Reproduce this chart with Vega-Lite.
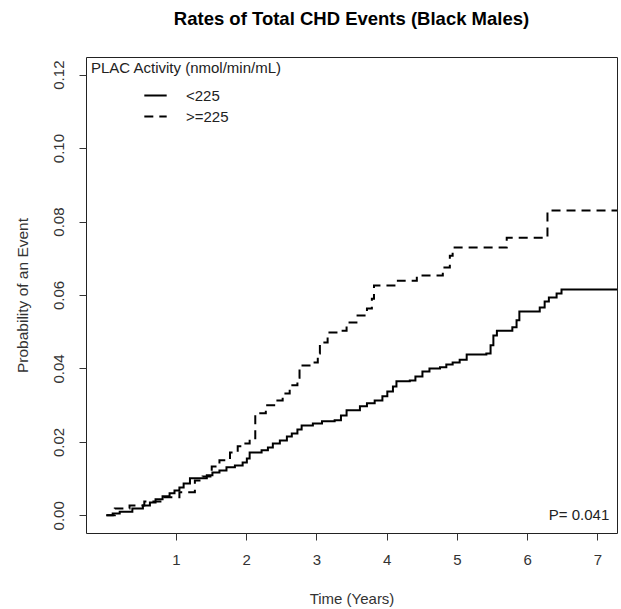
{
  "$schema": "https://vega.github.io/schema/vega-lite/v6.json",
  "width": 531,
  "height": 476,
  "autosize": {"type": "none"},
  "padding": {"left": 86, "top": 57, "right": 4, "bottom": 76},
  "background": "white",
  "title": {"text": "Rates of Total CHD Events (Black Males)", "font": "Liberation Sans", "fontSize": 18.5, "fontWeight": "bold", "color": "black", "anchor": "middle", "offset": 29},
  "config": {
    "view": {"stroke": "#222", "strokeWidth": 1},
    "font": "Liberation Sans",
    "text": {"font": "Liberation Sans"}
  },
  "datasets": {
    "km": [
      {"t": 0.01, "p": 0, "group": "<225"},
      {"t": 0.10, "p": 0.0005, "group": "<225"},
      {"t": 0.20, "p": 0.001, "group": "<225"},
      {"t": 0.38, "p": 0.0019, "group": "<225"},
      {"t": 0.53, "p": 0.0027, "group": "<225"},
      {"t": 0.63, "p": 0.0035, "group": "<225"},
      {"t": 0.71, "p": 0.0044, "group": "<225"},
      {"t": 0.81, "p": 0.0052, "group": "<225"},
      {"t": 0.91, "p": 0.006, "group": "<225"},
      {"t": 0.98, "p": 0.0068, "group": "<225"},
      {"t": 1.05, "p": 0.0076, "group": "<225"},
      {"t": 1.11, "p": 0.0087, "group": "<225"},
      {"t": 1.20, "p": 0.0101, "group": "<225"},
      {"t": 1.44, "p": 0.0109, "group": "<225"},
      {"t": 1.52, "p": 0.0117, "group": "<225"},
      {"t": 1.62, "p": 0.0122, "group": "<225"},
      {"t": 1.72, "p": 0.0131, "group": "<225"},
      {"t": 1.84, "p": 0.0136, "group": "<225"},
      {"t": 1.95, "p": 0.0144, "group": "<225"},
      {"t": 2.01, "p": 0.0155, "group": "<225"},
      {"t": 2.05, "p": 0.0171, "group": "<225"},
      {"t": 2.22, "p": 0.0177, "group": "<225"},
      {"t": 2.31, "p": 0.0185, "group": "<225"},
      {"t": 2.38, "p": 0.0196, "group": "<225"},
      {"t": 2.48, "p": 0.0204, "group": "<225"},
      {"t": 2.58, "p": 0.0215, "group": "<225"},
      {"t": 2.65, "p": 0.0223, "group": "<225"},
      {"t": 2.73, "p": 0.0234, "group": "<225"},
      {"t": 2.79, "p": 0.0245, "group": "<225"},
      {"t": 2.95, "p": 0.025, "group": "<225"},
      {"t": 3.08, "p": 0.0256, "group": "<225"},
      {"t": 3.26, "p": 0.0259, "group": "<225"},
      {"t": 3.35, "p": 0.0272, "group": "<225"},
      {"t": 3.43, "p": 0.0286, "group": "<225"},
      {"t": 3.62, "p": 0.0297, "group": "<225"},
      {"t": 3.72, "p": 0.0305, "group": "<225"},
      {"t": 3.83, "p": 0.0313, "group": "<225"},
      {"t": 3.94, "p": 0.0324, "group": "<225"},
      {"t": 4.01, "p": 0.0337, "group": "<225"},
      {"t": 4.09, "p": 0.0351, "group": "<225"},
      {"t": 4.14, "p": 0.0365, "group": "<225"},
      {"t": 4.33, "p": 0.0367, "group": "<225"},
      {"t": 4.41, "p": 0.0378, "group": "<225"},
      {"t": 4.51, "p": 0.0392, "group": "<225"},
      {"t": 4.61, "p": 0.04, "group": "<225"},
      {"t": 4.76, "p": 0.0403, "group": "<225"},
      {"t": 4.85, "p": 0.0411, "group": "<225"},
      {"t": 4.94, "p": 0.0416, "group": "<225"},
      {"t": 5.04, "p": 0.0424, "group": "<225"},
      {"t": 5.14, "p": 0.0438, "group": "<225"},
      {"t": 5.42, "p": 0.0441, "group": "<225"},
      {"t": 5.48, "p": 0.0463, "group": "<225"},
      {"t": 5.52, "p": 0.049, "group": "<225"},
      {"t": 5.57, "p": 0.0503, "group": "<225"},
      {"t": 5.79, "p": 0.0512, "group": "<225"},
      {"t": 5.85, "p": 0.0531, "group": "<225"},
      {"t": 5.89, "p": 0.0555, "group": "<225"},
      {"t": 6.18, "p": 0.0566, "group": "<225"},
      {"t": 6.25, "p": 0.0582, "group": "<225"},
      {"t": 6.31, "p": 0.0593, "group": "<225"},
      {"t": 6.42, "p": 0.0604, "group": "<225"},
      {"t": 6.49, "p": 0.0615, "group": "<225"},
      {"t": 7.30, "p": 0.0615, "group": "<225"},
      {"t": 0.01, "p": 0, "group": ">=225"},
      {"t": 0.13, "p": 0.0019, "group": ">=225"},
      {"t": 0.34, "p": 0.0027, "group": ">=225"},
      {"t": 0.55, "p": 0.0038, "group": ">=225"},
      {"t": 0.80, "p": 0.0049, "group": ">=225"},
      {"t": 1.05, "p": 0.0063, "group": ">=225"},
      {"t": 1.27, "p": 0.0095, "group": ">=225"},
      {"t": 1.38, "p": 0.0106, "group": ">=225"},
      {"t": 1.51, "p": 0.0133, "group": ">=225"},
      {"t": 1.62, "p": 0.015, "group": ">=225"},
      {"t": 1.77, "p": 0.0171, "group": ">=225"},
      {"t": 1.88, "p": 0.0188, "group": ">=225"},
      {"t": 1.96, "p": 0.0196, "group": ">=225"},
      {"t": 2.05, "p": 0.021, "group": ">=225"},
      {"t": 2.13, "p": 0.0278, "group": ">=225"},
      {"t": 2.28, "p": 0.03, "group": ">=225"},
      {"t": 2.43, "p": 0.0313, "group": ">=225"},
      {"t": 2.52, "p": 0.0332, "group": ">=225"},
      {"t": 2.62, "p": 0.0354, "group": ">=225"},
      {"t": 2.73, "p": 0.0375, "group": ">=225"},
      {"t": 2.76, "p": 0.0408, "group": ">=225"},
      {"t": 2.93, "p": 0.0416, "group": ">=225"},
      {"t": 3.02, "p": 0.0441, "group": ">=225"},
      {"t": 3.05, "p": 0.0471, "group": ">=225"},
      {"t": 3.16, "p": 0.0498, "group": ">=225"},
      {"t": 3.33, "p": 0.0503, "group": ">=225"},
      {"t": 3.43, "p": 0.0525, "group": ">=225"},
      {"t": 3.57, "p": 0.0544, "group": ">=225"},
      {"t": 3.72, "p": 0.0563, "group": ">=225"},
      {"t": 3.79, "p": 0.059, "group": ">=225"},
      {"t": 3.82, "p": 0.0626, "group": ">=225"},
      {"t": 4.16, "p": 0.0639, "group": ">=225"},
      {"t": 4.43, "p": 0.0653, "group": ">=225"},
      {"t": 4.80, "p": 0.0675, "group": ">=225"},
      {"t": 4.90, "p": 0.0707, "group": ">=225"},
      {"t": 4.94, "p": 0.0729, "group": ">=225"},
      {"t": 5.71, "p": 0.0756, "group": ">=225"},
      {"t": 6.29, "p": 0.083, "group": ">=225"},
      {"t": 7.30, "p": 0.083, "group": ">=225"}
    ],
    "note": [
      {"t": 7.17, "p": 0.0, "label": "P= 0.041"}
    ]
  },
  "layer": [
    {
      "data": {"name": "km"},
      "mark": {"type": "line", "interpolate": "step-after", "clip": true, "strokeWidth": 2, "color": "black"},
      "encoding": {
        "x": {
          "field": "t", "type": "quantitative",
          "scale": {"domain": [-0.28, 7.28], "nice": false, "zero": false},
          "axis": {
            "values": [1, 2, 3, 4, 5, 6, 7], "format": "d", "grid": false, "domain": false,
            "tickSize": 7, "tickColor": "#333", "labelFontSize": 15, "labelPadding": 12,
            "labelFont": "Liberation Sans", "labelColor": "#333", "labelFlush": false,
            "title": "Time (Years)", "titleFont": "Liberation Sans", "titleFontSize": 15,
            "titleFontWeight": "normal", "titleColor": "#333", "titlePadding": 24
          }
        },
        "y": {
          "field": "p", "type": "quantitative",
          "scale": {"domain": [-0.0048, 0.1248], "nice": false, "zero": false},
          "axis": {
            "values": [0, 0.02, 0.04, 0.06, 0.08, 0.1, 0.12], "format": ".2f", "grid": false, "domain": false,
            "tickSize": 7, "tickColor": "#333", "labelFontSize": 15, "labelPadding": 13,
            "labelAngle": -90, "labelAlign": "center", "labelBaseline": "bottom",
            "labelFont": "Liberation Sans", "labelColor": "#333", "labelFlush": false,
            "title": "Probability of an Event", "titleFont": "Liberation Sans", "titleFontSize": 15.5,
            "titleFontWeight": "normal", "titleColor": "#333", "titlePadding": 21
          }
        },
        "strokeDash": {
          "field": "group", "type": "nominal",
          "scale": {"domain": ["<225", ">=225"], "range": [[1, 0], [9, 6]]},
          "legend": {
            "orient": "none", "legendX": 5, "legendY": 4,
            "title": "PLAC Activity (nmol/min/mL)", "titleFont": "Liberation Sans", "titleFontSize": 15,
            "titleFontWeight": "normal", "titleColor": "#222", "titlePadding": 7, "titleLimit": 500,
            "labelFont": "Liberation Sans", "labelFontSize": 15, "labelColor": "#222", "labelLimit": 300,
            "symbolType": "stroke", "symbolStrokeWidth": 2, "symbolSize": 500, "symbolStrokeColor": "black",
            "symbolOffset": 52, "labelOffset": 18, "rowPadding": -4, "padding": 0
          }
        }
      }
    },
    {
      "data": {"name": "note"},
      "mark": {"type": "text", "align": "right", "baseline": "middle", "font": "Liberation Sans", "fontSize": 15, "color": "#222"},
      "encoding": {
        "x": {"field": "t", "type": "quantitative"},
        "y": {"field": "p", "type": "quantitative"},
        "text": {"field": "label"}
      }
    }
  ]
}
